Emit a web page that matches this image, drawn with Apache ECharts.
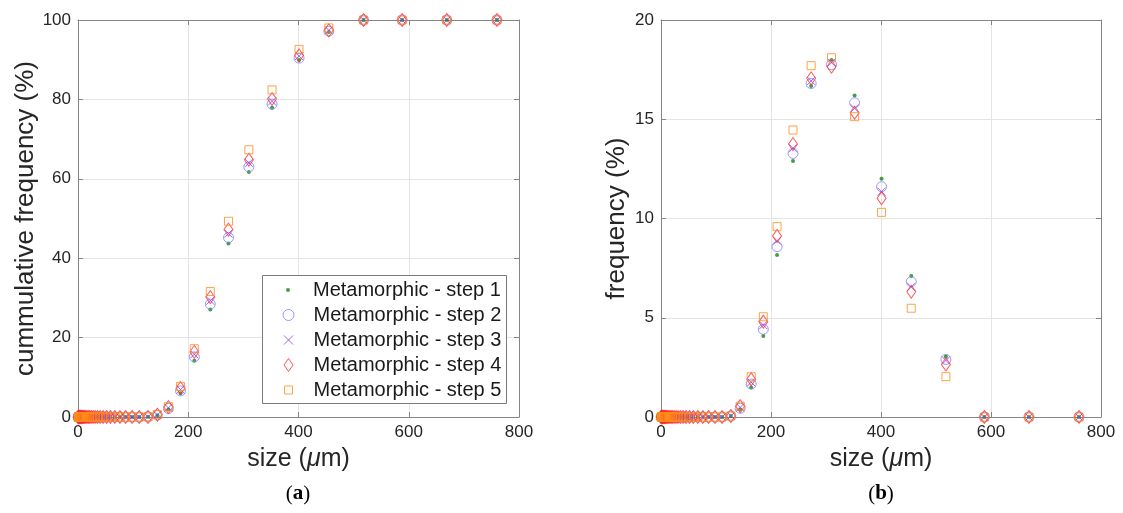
<!DOCTYPE html>
<html>
<head>
<meta charset="utf-8">
<script src="https://cdn.jsdelivr.net/npm/echarts@6/dist/echarts.min.js"></script>
<style>
  html, body { margin: 0; padding: 0; background: #ffffff; }
  #chart { width: 1123px; height: 513px; }
</style>
</head>
<body>
<div id="chart"></div>
<script>
// Particle size classes (µm), one per measured bin
const sizes = [
  0.51, 0.58, 0.66, 0.75, 0.85, 0.97, 1.1, 1.3, 1.4, 1.6,
  1.8, 2.1, 2.4, 2.7, 3.1, 3.5, 4.0, 4.5, 5.2, 5.9,
  6.7, 7.6, 8.6, 9.8, 11.1, 12.7, 14.4, 16.4, 18.6, 21.1,
  24.0, 27.3, 31.0, 35.3, 40.1, 45.5, 51.8, 58.8, 66.8, 76.0,
  86.3, 98.1,
  111, 127, 144, 164, 186, 211, 240, 273, 310, 352, 401, 455, 518, 588, 669, 760
];

// Cumulative frequency (%) per step
const cumStep1 = [
  0,0,0,0,0,0,0,0,0,0, 0,0,0,0,0,0,0,0,0,0, 0,0,0,0,0,0,0,0,0,0, 0,0,0,0,0,0,0,0,0,0, 0,0,
  0, 0.05, 0.43, 1.91, 5.99, 14.15, 27.05, 43.72, 61.70, 77.90, 89.90, 97.00, 100, 100, 100, 100
];
const cumStep2 = [
  0,0,0,0,0,0,0,0,0,0, 0,0,0,0,0,0,0,0,0,0, 0,0,0,0,0,0,0,0,0,0, 0,0,0,0,0,0,0,0,0,0, 0,0,
  0, 0.05, 0.49, 2.15, 6.57, 15.15, 28.43, 45.2, 63.0, 78.8, 90.4, 97.2, 100, 100, 100, 100
];
const cumStep3 = [
  0,0,0,0,0,0,0,0,0,0, 0,0,0,0,0,0,0,0,0,0, 0,0,0,0,0,0,0,0,0,0, 0,0,0,0,0,0,0,0,0,0, 0,0,
  0, 0.05, 0.53, 2.28, 6.9, 15.8, 29.3, 46.2, 64.0, 79.5, 90.9, 97.4, 100, 100, 100, 100
];
const cumStep4 = [
  0,0,0,0,0,0,0,0,0,0, 0,0,0,0,0,0,0,0,0,0, 0,0,0,0,0,0,0,0,0,0, 0,0,0,0,0,0,0,0,0,0, 0,0,
  0, 0.05, 0.6, 2.5, 7.3, 16.4, 30.2, 47.2, 64.8, 80.1, 91.1, 97.4, 100, 100, 100, 100
];
const cumStep5 = [
  0,0,0,0,0,0,0,0,0,0, 0,0,0,0,0,0,0,0,0,0, 0,0,0,0,0,0,0,0,0,0, 0,0,0,0,0,0,0,0,0,0, 0,0,
  0, 0.05, 0.6, 2.6, 7.7, 17.2, 31.6, 49.3, 67.3, 82.4, 92.6, 98.0, 100, 100, 100, 100
];

// Frequency (%) per step
const freqStep1 = [
  0,0,0,0,0,0,0,0,0,0, 0,0,0,0,0,0,0,0,0,0, 0,0,0,0,0,0,0,0,0,0, 0,0,0,0,0,0,0,0,0,0, 0,0,
  0, 0.05, 0.38, 1.48, 4.08, 8.16, 12.9, 16.67, 17.98, 16.2, 12.0, 7.1, 3.05, 0, 0, 0
];
const freqStep2 = [
  0,0,0,0,0,0,0,0,0,0, 0,0,0,0,0,0,0,0,0,0, 0,0,0,0,0,0,0,0,0,0, 0,0,0,0,0,0,0,0,0,0, 0,0,
  0, 0.05, 0.44, 1.66, 4.42, 8.58, 13.28, 16.8, 17.75, 15.83, 11.6, 6.82, 2.9, 0, 0, 0
];
const freqStep3 = [
  0,0,0,0,0,0,0,0,0,0, 0,0,0,0,0,0,0,0,0,0, 0,0,0,0,0,0,0,0,0,0, 0,0,0,0,0,0,0,0,0,0, 0,0,
  0, 0.05, 0.48, 1.75, 4.63, 8.88, 13.54, 16.93, 17.85, 15.55, 11.35, 6.55, 2.85, 0, 0, 0
];
const freqStep4 = [
  0,0,0,0,0,0,0,0,0,0, 0,0,0,0,0,0,0,0,0,0, 0,0,0,0,0,0,0,0,0,0, 0,0,0,0,0,0,0,0,0,0, 0,0,
  0, 0.05, 0.55, 1.9, 4.8, 9.12, 13.75, 17.06, 17.65, 15.33, 11.02, 6.31, 2.65, 0, 0, 0
];
const freqStep5 = [
  0,0,0,0,0,0,0,0,0,0, 0,0,0,0,0,0,0,0,0,0, 0,0,0,0,0,0,0,0,0,0, 0,0,0,0,0,0,0,0,0,0, 0,0,
  0, 0.05, 0.55, 2.03, 5.05, 9.59, 14.46, 17.7, 18.1, 15.13, 10.31, 5.48, 2.03, 0, 0, 0
];

const seriesNames = [
  'Metamorphic - step 1',
  'Metamorphic - step 2',
  'Metamorphic - step 3',
  'Metamorphic - step 4',
  'Metamorphic - step 5'
];
const cumData = [cumStep1, cumStep2, cumStep3, cumStep4, cumStep5];
const freqData = [freqStep1, freqStep2, freqStep3, freqStep4, freqStep5];

// Axis ranges / tick spacing
const xRange = { min: 0, max: 800, interval: 200 };
const cumRange = { min: 0, max: 100, interval: 20 };
const freqRange = { min: 0, max: 20, interval: 5 };

const SANS = '"Liberation Sans", Arial, Helvetica, sans-serif';
const SERIF = '"Liberation Serif", "Times New Roman", serif';
const AXIS_GRAY = '#858585';
const TEXT_DARK = '#262626';
const GRID_GRAY = '#e4e4e4';

const crossPath = 'path://M0,0L10,10M10,0L0,10';
const diamondPath = 'path://M4.5,0L9,6.5L4.5,13L0,6.5Z';
const squarePath = 'path://M0,0L8,0L8,8L0,8Z';

// Marker look for each step (legendH = icon box, legendW = drawn icon width)
const markers = [
  { symbol: 'circle', size: 4, color: '#118a11', filled: true, legendIcon: 'circle', legendH: 4, legendW: 4 },
  { symbol: 'circle', size: 10, color: '#7f7fff', legendIcon: 'circle', legendH: 11, legendW: 11 },
  { symbol: crossPath, size: 8, color: '#8040ff', legendIcon: crossPath, legendH: 9, legendW: 9 },
  { symbol: 'diamond', size: [9, 13], color: '#ff2d2d', legendIcon: diamondPath, legendH: 13, legendW: 9 },
  { symbol: 'rect', size: 8, color: '#ff8c1a', legendIcon: squarePath, legendH: 8, legendW: 8 }
];

function markerStyle(m) {
  return m.filled
    ? { color: m.color, borderWidth: 0 }
    : { color: 'rgba(0,0,0,0)', borderColor: m.color, borderWidth: 1 };
}

function makeSeries(values, axisIdx) {
  return seriesNames.map((name, k) => ({
    name: name,
    type: 'scatter',
    xAxisIndex: axisIdx,
    yAxisIndex: axisIdx,
    data: sizes.map((s, i) => [s, values[k][i]]),
    symbol: markers[k].symbol,
    symbolSize: markers[k].size,
    itemStyle: markerStyle(markers[k]),
    clip: false,
    emphasis: { disabled: true },
    z: 2 + k * 0.01
  }));
}

function mainX(gridIndex) {
  return {
    gridIndex: gridIndex, type: 'value', position: 'bottom',
    min: xRange.min, max: xRange.max, interval: xRange.interval,
    axisLine: { onZero: false, lineStyle: { color: AXIS_GRAY, width: 1 } },
    axisTick: { inside: true, length: 5, lineStyle: { color: AXIS_GRAY } },
    axisLabel: { margin: 7, fontSize: 17, fontFamily: SANS, color: TEXT_DARK },
    splitLine: { show: true, lineStyle: { color: GRID_GRAY, width: 1 } },
    name: 'size ({i|\u03bc}m)',
    nameLocation: 'middle',
    nameGap: 30,
    nameTextStyle: {
      fontSize: 25, fontFamily: SANS, color: TEXT_DARK,
      rich: { i: { fontSize: 25, fontFamily: SANS, fontStyle: 'italic', color: TEXT_DARK } }
    }
  };
}
function topX(gridIndex) {
  return {
    gridIndex: gridIndex, type: 'value', position: 'top',
    min: xRange.min, max: xRange.max, interval: xRange.interval,
    axisLine: { onZero: false, lineStyle: { color: AXIS_GRAY, width: 1 } },
    axisTick: { inside: true, length: 5, lineStyle: { color: AXIS_GRAY } },
    axisLabel: { show: false },
    splitLine: { show: false }
  };
}
function mainY(gridIndex, range, title, gap) {
  return {
    gridIndex: gridIndex, type: 'value', position: 'left',
    min: range.min, max: range.max, interval: range.interval,
    axisLine: { show: true, onZero: false, lineStyle: { color: AXIS_GRAY, width: 1 } },
    axisTick: { show: true, inside: true, length: 5, lineStyle: { color: AXIS_GRAY } },
    axisLabel: { margin: 7, fontSize: 17, fontFamily: SANS, color: TEXT_DARK },
    splitLine: { show: true, lineStyle: { color: GRID_GRAY, width: 1 } },
    name: title,
    nameLocation: 'middle',
    nameGap: gap,
    nameTextStyle: { fontSize: 26, fontFamily: SANS, color: TEXT_DARK }
  };
}
function rightY(gridIndex, range) {
  return {
    gridIndex: gridIndex, type: 'value', position: 'right',
    min: range.min, max: range.max, interval: range.interval,
    axisLine: { show: true, onZero: false, lineStyle: { color: AXIS_GRAY, width: 1 } },
    axisTick: { show: true, inside: true, length: 5, lineStyle: { color: AXIS_GRAY } },
    axisLabel: { show: false },
    splitLine: { show: false }
  };
}

// One legend row per step so each icon keeps its own size;
// icons are centred on one column and the texts start on another.
const legendIconX = 288;
const legendTextX = 313;
const legendRowCenters = [290, 315, 340, 365, 390];
const legends = seriesNames.map((name, k) => {
  const h = markers[k].legendH;
  const w = markers[k].legendW;
  return {
    show: true,
    orient: 'vertical',
    left: legendIconX - w / 2,
    top: legendRowCenters[k] - 12.5,
    padding: 0,
    itemGap: 0,
    itemWidth: h,
    itemHeight: h,
    symbolKeepAspect: true,
    selectedMode: false,
    z: 5,
    textStyle: {
      fontSize: 20, fontFamily: SANS, color: '#1a1a1a', lineHeight: 25,
      padding: [0, 0, 0, legendTextX - (legendIconX + h / 2 + 5)]
    },
    data: [{ name: name, icon: markers[k].legendIcon, itemStyle: markerStyle(markers[k]) }]
  };
});

const chart = echarts.init(document.getElementById('chart'), null, { renderer: 'canvas' });

chart.setOption({
  animation: false,
  backgroundColor: '#ffffff',
  grid: [
    { left: 78, top: 20, width: 441, height: 397, containLabel: false },
    { left: 661, top: 20, width: 440, height: 397, containLabel: false }
  ],
  xAxis: [mainX(0), topX(0), mainX(1), topX(1)],
  yAxis: [
    mainY(0, cumRange, 'cummulative frequency (%)', 38),
    rightY(0, cumRange),
    mainY(1, freqRange, 'frequency (%)', 31),
    rightY(1, freqRange)
  ],
  legend: legends,
  graphic: [
    {
      type: 'rect', z: 3,
      shape: { x: 262.5, y: 275.5, width: 244, height: 128 },
      style: { fill: '#ffffff', stroke: '#7a7a7a', lineWidth: 1 }
    },
    {
      type: 'text', x: 298, y: 494, z: 5,
      style: {
        text: '{p|(}{b|a}{p|)}', align: 'center', verticalAlign: 'middle',
        rich: {
          p: { fontSize: 21, fontFamily: SERIF, color: '#111' },
          b: { fontSize: 21, fontFamily: SERIF, fontWeight: 'bold', color: '#111' }
        }
      }
    },
    {
      type: 'text', x: 881, y: 494, z: 5,
      style: {
        text: '{p|(}{b|b}{p|)}', align: 'center', verticalAlign: 'middle',
        rich: {
          p: { fontSize: 21, fontFamily: SERIF, color: '#111' },
          b: { fontSize: 21, fontFamily: SERIF, fontWeight: 'bold', color: '#111' }
        }
      }
    }
  ],
  series: makeSeries(cumData, 0).concat(makeSeries(freqData, 2))
});
</script>
</body>
</html>
